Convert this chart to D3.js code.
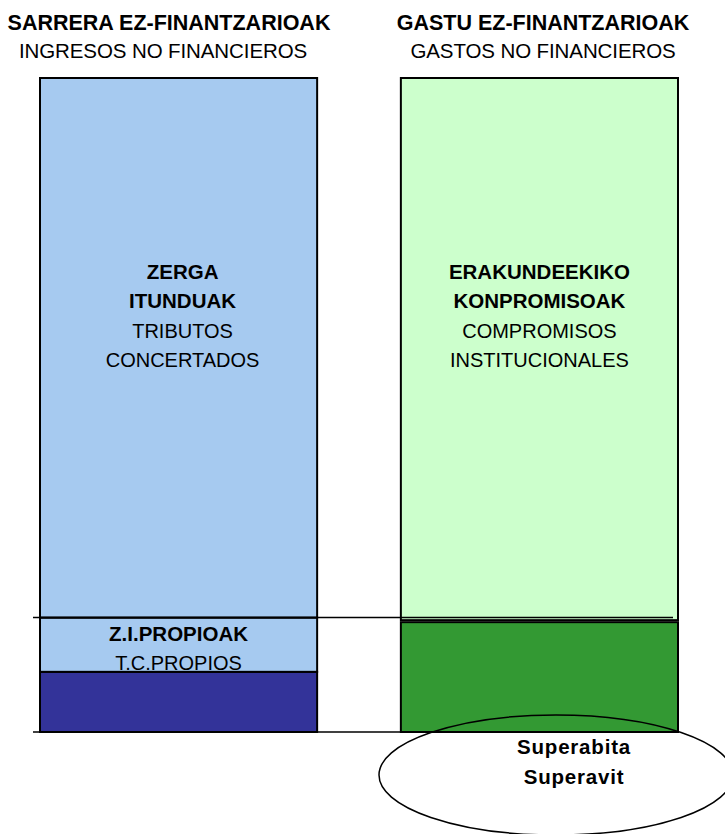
<!DOCTYPE html>
<html>
<head>
<meta charset="utf-8">
<script src="https://cdn.jsdelivr.net/npm/d3@7"></script>
<style>
  html, body { margin: 0; padding: 0; background: #fff; }
  text { font-family: "Liberation Sans", Arial, sans-serif; fill: #000; }
</style>
</head>
<body>
<svg id="chart" width="725" height="834"></svg>
<script>
// ---- Data (shares of non-financial budget, %) ----
const columns = ["sarrera", "gastu"];
const titlesBold = ["SARRERA EZ-FINANTZARIOAK", "GASTU EZ-FINANTZARIOAK"];
const titlesRegular = ["INGRESOS NO FINANCIEROS", "GASTOS NO FINANCIEROS"];

// segment order: bottom -> top
const sarreraSegments = ["beste", "propioak", "itunduak"];
const sarreraValues = [9.2, 8.3, 82.5];
const gastuSegments = ["beste", "konpromisoak"];
const gastuValues = [17.1, 82.9];

const segmentLabelsBold = {
  itunduak: ["ZERGA", "ITUNDUAK"],
  propioak: ["Z.I.PROPIOAK"],
  konpromisoak: ["ERAKUNDEEKIKO", "KONPROMISOAK"]
};
const segmentLabelsRegular = {
  itunduak: ["TRIBUTOS", "CONCERTADOS"],
  propioak: ["T.C.PROPIOS"],
  konpromisoak: ["COMPROMISOS", "INSTITUCIONALES"]
};
const surplusLabels = ["Superabita", "Superavit"];

const colors = {
  sarrera: { beste: "#333399", propioak: "#a6caf0", itunduak: "#a6caf0" },
  gastu: { beste: "#339933", konpromisoak: "#ccffcc" }
};

// ---- Scales ----
const svg = d3.select("#chart");
const x = d3.scaleBand().domain(columns).range([40, 678]).paddingInner(0.232).paddingOuter(0);
const y = d3.scaleLinear().domain([0, 100]).range([732, 78]);

function stackOf(keys, vals) {
  let acc = 0;
  return keys.map((k, i) => { const s = { key: k, y0: acc, y1: acc + vals[i] }; acc += vals[i]; return s; });
}
const stacks = {
  sarrera: stackOf(sarreraSegments, sarreraValues),
  gastu: stackOf(gastuSegments, gastuValues)
};

// ---- Titles ----
const titleCenters = { sarrera: 169, gastu: 543 };
columns.forEach((c, i) => {
  svg.append("text").attr("x", titleCenters[c]).attr("y", 30)
    .attr("text-anchor", "middle").attr("font-size", 21.5).attr("font-weight", "bold")
    .attr("letter-spacing", 0).text(titlesBold[i]);
  svg.append("text").attr("x", titleCenters[c] - (c === "sarrera" ? 6 : 0)).attr("y", 58)
    .attr("text-anchor", "middle").attr("font-size", 20.5).attr("letter-spacing", -0.1)
    .text(titlesRegular[i]);
});

// ---- Bars ----
columns.forEach(c => {
  const g = svg.append("g");
  g.selectAll("rect").data(stacks[c]).join("rect")
    .attr("x", x(c))
    .attr("width", x.bandwidth())
    .attr("y", d => y(d.y1) + (c === "gastu" && d.key === "beste" ? 2 : 0))
    .attr("height", d => y(d.y0) - y(d.y1) - (c === "gastu" && d.key === "beste" ? 2 : 0))
    .attr("fill", d => colors[c][d.key])
    .attr("stroke", "#000").attr("stroke-width", 2);
});

// ---- Reference lines ----
const refLevels = [0, sarreraValues[0] + sarreraValues[1]];
svg.selectAll("line.ref").data(refLevels).join("line").attr("class", "ref")
  .attr("x1", 33).attr("x2", 673)
  .attr("y1", d => y(d)).attr("y2", d => y(d))
  .attr("stroke", "#000").attr("stroke-width", 1.5);

// ---- Segment labels ----
columns.forEach(c => {
  stacks[c].forEach(s => {
    const bold = segmentLabelsBold[s.key];
    if (!bold) return;
    const cx = x(c) + x.bandwidth() / 2 + (s.key === "itunduak" ? 4 : 0);
    const reg = segmentLabelsRegular[s.key];
    const lines = bold.map(t => ({ t, b: true })).concat(reg.map(t => ({ t, b: false })));
    const firstBaseline = s.key === "propioak" ? y(s.y1) + 23 : 279;
    const step = s.key === "propioak" ? 29 : 29.3;
    lines.forEach((l, i) => {
      svg.append("text").attr("x", cx).attr("y", firstBaseline + i * step)
        .attr("text-anchor", "middle")
        .attr("font-size", l.b ? 20.5 : 20)
        .attr("font-weight", l.b ? "bold" : "normal")
        .text(l.t);
    });
  });
});

// ---- Surplus ellipse ----
svg.append("ellipse").attr("cx", 556).attr("cy", 775).attr("rx", 177).attr("ry", 60)
  .attr("fill", "none").attr("stroke", "#000").attr("stroke-width", 1.5);
surplusLabels.forEach((t, i) => {
  svg.append("text").attr("x", 574).attr("y", 754 + i * 30)
    .attr("text-anchor", "middle").attr("font-size", 20.5).attr("font-weight", "bold")
    .attr("letter-spacing", 0.8).text(t);
});
</script>
</body>
</html>
